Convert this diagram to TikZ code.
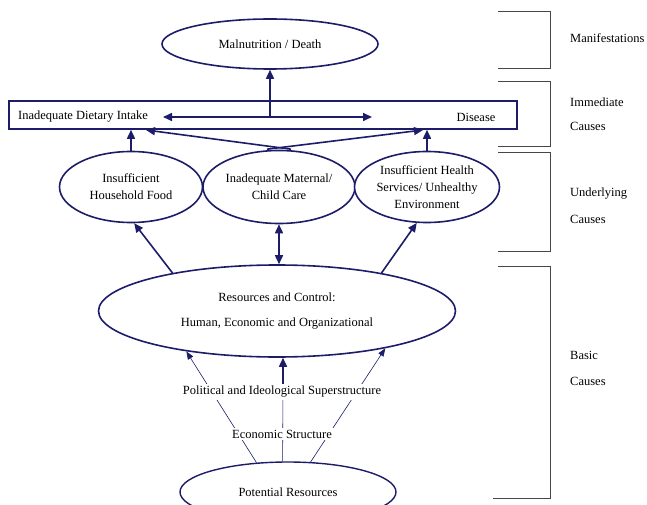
\documentclass[tikz,border=0pt]{standalone}
\usepackage{fontspec}
\setmainfont{Liberation Serif}
\usetikzlibrary{arrows.meta,shapes.geometric}
\definecolor{navy}{RGB}{28,28,105}
\definecolor{brk}{RGB}{70,70,70}
\begin{document}
\begin{tikzpicture}[x=1pt,y=-1pt,
  every node/.style={font=\fontsize{12.5}{17}\selectfont, inner sep=0pt, text=black},
  oval/.style={draw=navy, line width=1.6pt, ellipse, align=center, fill=white},
  bigarrow/.style={draw=navy, line width=1.6pt, -{Triangle[length=9pt,width=8pt]}},
  dblarrow/.style={draw=navy, line width=1.6pt, {Triangle[length=9pt,width=8pt]}-{Triangle[length=9pt,width=8pt]}},
  thinarrow/.style={draw=navy, line width=0.6pt, -{Triangle[length=8pt,width=6pt]}},
  thinline/.style={draw=navy, line width=0.6pt},
  bracket/.style={draw=brk, line width=0.9pt},
  masked/.style={fill=white, inner sep=2pt}
]
\useasboundingbox (0,0) rectangle (647,505);

% right brackets
\draw[bracket] (498,11) -- (550,11) -- (550,68) -- (498,68);
\draw[bracket] (498,81) -- (550,81) -- (550,146) -- (498,146);
\draw[bracket] (498,152) -- (550,152) -- (550,251) -- (498,251);
\draw[bracket] (498,266) -- (550,266) -- (550,498) -- (493,498);

\node[anchor=west] (lman) at (570,38) {Manifestations};
\node[anchor=west] (limm1) at (570,102) {Immediate};
\node[anchor=west] (limm2) at (570,126) {Causes};
\node[anchor=west] (lund1) at (570,194) {Underlying};
\node[anchor=west] (lund2) at (570,219) {Causes};
\node[anchor=west] (lbas1) at (570,355) {Basic};
\node[anchor=west] (lbas2) at (570,381) {Causes};

% top
\node[oval, minimum width=216pt, minimum height=50pt] (mal) at (270,44) {Malnutrition / Death};
\node[draw=navy, line width=1.6pt, minimum width=508pt, minimum height=28pt] (imm) at (263,115) {};
\node[anchor=west] (diet) at (18,117) {Inadequate Dietary Intake};
\node (dis) at (476,117) {Disease};
\coordinate (hl) at (163,117);
\coordinate (hr) at (372,117);
\coordinate (hm) at (270,117);
\draw[dblarrow] (hl) -- (hr);
\draw[bigarrow] (hm) -- (mal.south);

% underlying
\node[oval, minimum width=143pt, minimum height=71pt] (food) at (131,187) {Insufficient\\Household Food};
\node[oval, minimum width=152pt, minimum height=73pt] (care) at (279,187) {Inadequate Maternal/\\Child Care};
\node[oval, minimum width=145pt, minimum height=71pt] (health) at (427,187) {Insufficient Health\\Services/ Unhealthy\\Environment};

\draw[bigarrow] (food.north) -- (food.north |- imm.south);
\draw[bigarrow] (health.north) -- (health.north |- imm.south);
\coordinate (dl) at (146,130);
\coordinate (dr) at (423,130);
\draw[bigarrow] ([xshift=12pt,yshift=0.5pt]care.north) -- (dl);
\draw[bigarrow] ([xshift=-12pt,yshift=0.5pt]care.north) -- (dr);

% basic
\node[oval, minimum width=357pt, minimum height=92pt] (rc) at (277,311) {Resources and Control:\\[8pt]Human, Economic and Organizational};
\draw[bigarrow] (rc.160) -- (food.-85);
\draw[bigarrow] (rc.20) -- (health.-106);
\draw[dblarrow] (care.south) -- (care.south |- rc.north);

\node[oval, line width=1.4pt, minimum width=216pt, minimum height=60pt] (pr) at (288,492) {Potential Resources};

\draw[thinarrow] (pr.137) -- (rc.-156);
\draw[thinarrow] (pr.53) -- (rc.-19);
\draw[thinline] (pr.100) -- (283,384);
\coordinate (mt) at (283,384);
\draw[bigarrow] (mt) -- (mt |- rc.south);

\node[masked] (pol) at (282,392) {Political and Ideological Superstructure};
\node[masked] (eco) at (282,434) {Economic Structure};
\end{tikzpicture}
\end{document}
